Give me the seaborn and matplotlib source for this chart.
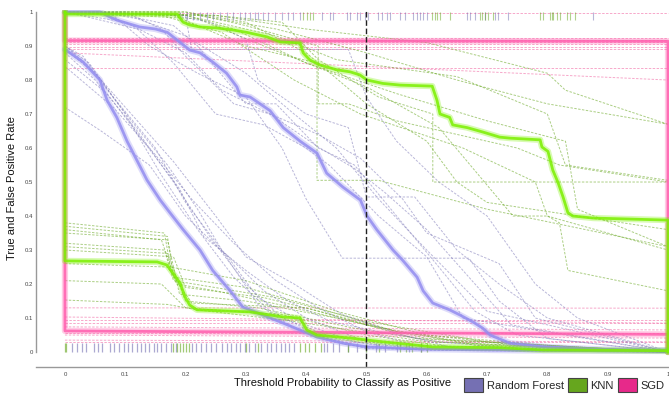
import pandas as pd
import seaborn as sns
import matplotlib.pyplot as plt
from matplotlib.patches import Patch

# --- Mean curves (threshold, rate) ---
rf_tpr_x = [0, 0.058, 0.075, 0.088, 0.124, 0.15, 0.17, 0.207, 0.224, 0.245, 0.268, 0.285, 0.29, 0.307,
            0.34, 0.362, 0.39, 0.418, 0.434, 0.461, 0.49, 0.501, 0.517, 0.544, 0.56, 0.584, 0.594, 0.61,
            0.638, 0.655, 0.677, 0.693, 0.705, 0.738, 0.796, 0.887, 1.0]
rf_tpr_y = [1.0, 1.0, 0.985, 0.975, 0.956, 0.95, 0.94, 0.888, 0.88, 0.853, 0.82, 0.78, 0.756, 0.75,
            0.71, 0.66, 0.62, 0.585, 0.526, 0.485, 0.447, 0.40, 0.36, 0.30, 0.27, 0.22, 0.18, 0.144,
            0.124, 0.109, 0.088, 0.07, 0.05, 0.026, 0.015, 0.008, 0.005]
rf_fpr_x = [0, 0.03, 0.058, 0.07, 0.086, 0.103, 0.119, 0.136, 0.158, 0.174, 0.196, 0.224, 0.245, 0.274,
            0.295, 0.307, 0.362, 0.418, 0.461, 0.501, 0.584, 0.75, 1.0]
rf_fpr_y = [0.89, 0.853, 0.80, 0.74, 0.69, 0.62, 0.565, 0.506, 0.447, 0.41, 0.36, 0.30, 0.24, 0.18,
            0.132, 0.124, 0.085, 0.044, 0.026, 0.015, 0.009, 0.005, 0.003]

knn_tpr_x = [0, 0.003, 0.186, 0.196, 0.207, 0.224, 0.252, 0.279, 0.302, 0.335, 0.357, 0.39, 0.395, 0.406,
             0.423, 0.451, 0.473, 0.489, 0.501, 0.527, 0.556, 0.609, 0.617, 0.622, 0.638, 0.643, 0.667,
             0.693, 0.721, 0.738, 0.788, 0.791, 0.801, 0.809, 0.818, 0.826, 0.834, 0.842, 0.876, 1.0, 1.0]
knn_tpr_y = [1.0, 0.994, 0.994, 0.97, 0.962, 0.956, 0.953, 0.947, 0.94, 0.927, 0.912, 0.909, 0.88, 0.859,
             0.844, 0.83, 0.824, 0.815, 0.80, 0.79, 0.785, 0.782, 0.74, 0.70, 0.69, 0.668, 0.66,
             0.647, 0.632, 0.629, 0.624, 0.603, 0.59, 0.535, 0.497, 0.456, 0.41, 0.40, 0.394, 0.388, 0.0]
knn_fpr_x = [0, 0, 0.153, 0.169, 0.179, 0.191, 0.199, 0.207, 0.219, 0.307, 0.362, 0.39, 0.401, 0.418,
             0.473, 0.527, 0.584, 0.61, 0.721, 0.793, 1.0, 1.0]
knn_fpr_y = [1.0, 0.268, 0.265, 0.256, 0.232, 0.203, 0.162, 0.138, 0.124, 0.118, 0.103, 0.10, 0.065, 0.05,
             0.041, 0.03, 0.02, 0.015, 0.013, 0.006, 0.004, 0.0]

sgd_tpr_x = [0, 0, 1.0, 1.0]
sgd_tpr_y = [1.0, 0.916, 0.914, 0.0]
sgd_fpr_x = [0, 0, 1.0, 1.0]
sgd_fpr_y = [1.0, 0.062, 0.052, 0.0]

# --- Individual fold curves ---
rf_tpr_folds_x = [
    [0, 0.06, 0.12, 0.2, 0.3, 0.38, 0.45, 0.52, 0.6, 0.7, 1.0],
    [0, 0.1, 0.18, 0.22, 0.3, 0.35, 0.42, 0.48, 0.55, 0.62, 0.68, 0.75, 1.0],
    [0, 0.15, 0.24, 0.3, 0.32, 0.4, 0.47, 0.5, 0.58, 0.65, 0.72, 0.8, 1.0],
    [0, 0.05, 0.12, 0.18, 0.25, 0.33, 0.4, 0.44, 0.52, 0.6, 0.66, 1.0],
    [0, 0.2, 0.21, 0.47, 0.5, 0.55, 0.62, 0.7, 0.78, 0.85, 1.0],
    [0, 0.08, 0.14, 0.22, 0.3, 0.36, 0.4, 0.46, 0.67, 0.72, 0.8, 1.0],
    [0, 0.1, 0.2, 0.26, 0.34, 0.42, 0.48, 0.53, 0.6, 0.68, 0.74, 1.0],
    [0, 0.1, 0.16, 0.2, 0.28, 0.34, 0.42, 0.49, 0.56, 0.6, 0.72, 0.78, 1.0],
]
rf_tpr_folds_y = [
    [1.0, 1.0, 0.98, 0.93, 0.82, 0.70, 0.60, 0.45, 0.30, 0.12, 0.0],
    [1.0, 0.99, 0.96, 0.90, 0.73, 0.73, 0.60, 0.55, 0.40, 0.25, 0.12, 0.05, 0.0],
    [1.0, 1.0, 0.97, 0.92, 0.80, 0.70, 0.66, 0.456, 0.456, 0.30, 0.20, 0.10, 0.0],
    [1.0, 0.98, 0.95, 0.85, 0.70, 0.668, 0.60, 0.547, 0.40, 0.28, 0.10, 0.0],
    [1.0, 0.99, 0.89, 0.89, 0.75, 0.62, 0.50, 0.40, 0.20, 0.10, 0.0],
    [1.0, 0.99, 0.90, 0.82, 0.75, 0.60, 0.45, 0.276, 0.276, 0.15, 0.04, 0.0],
    [1.0, 0.97, 0.88, 0.77, 0.70, 0.603, 0.54, 0.47, 0.36, 0.20, 0.08, 0.0],
    [1.0, 1.0, 0.95, 0.87, 0.73, 0.70, 0.64, 0.57, 0.45, 0.35, 0.26, 0.10, 0.0],
]
rf_fpr_folds_x = [
    [0, 0.04, 0.1, 0.16, 0.22, 0.28, 0.34, 0.42, 0.5, 1.0],
    [0, 0.05, 0.12, 0.18, 0.24, 0.3, 0.36, 0.45, 0.55, 1.0],
    [0, 0.03, 0.08, 0.15, 0.2, 0.26, 0.33, 0.4, 0.5, 0.6, 1.0],
    [0, 0.06, 0.14, 0.2, 0.27, 0.32, 0.4, 0.48, 0.58, 1.0],
    [0, 0.05, 0.1, 0.18, 0.25, 0.3, 0.38, 0.46, 0.56, 0.65, 1.0],
    [0, 0.07, 0.13, 0.19, 0.23, 0.3, 0.37, 0.44, 0.52, 0.62, 0.75, 1.0],
    [0, 0.04, 0.11, 0.17, 0.22, 0.26, 0.32, 0.38, 0.47, 0.6, 1.0],
    [0, 0.08, 0.15, 0.21, 0.28, 0.35, 0.42, 0.5, 0.58, 1.0],
]
rf_fpr_folds_y = [
    [0.90, 0.85, 0.70, 0.52, 0.36, 0.22, 0.12, 0.05, 0.01, 0.0],
    [0.88, 0.80, 0.65, 0.50, 0.34, 0.20, 0.10, 0.04, 0.01, 0.0],
    [0.90, 0.87, 0.75, 0.60, 0.44, 0.30, 0.18, 0.10, 0.03, 0.01, 0.0],
    [0.72, 0.65, 0.55, 0.40, 0.28, 0.16, 0.08, 0.03, 0.01, 0.0],
    [0.89, 0.82, 0.72, 0.56, 0.40, 0.28, 0.20, 0.11, 0.05, 0.01, 0.0],
    [0.86, 0.76, 0.62, 0.48, 0.34, 0.24, 0.15, 0.09, 0.06, 0.03, 0.01, 0.0],
    [0.90, 0.84, 0.68, 0.55, 0.42, 0.30, 0.14, 0.07, 0.02, 0.005, 0.0],
    [0.84, 0.72, 0.58, 0.45, 0.32, 0.21, 0.13, 0.06, 0.02, 0.0],
]

knn_tpr_folds_x = [
    [0, 0.22, 0.35, 0.5, 0.65, 0.8, 1.0],
    [0, 0.2, 0.3, 0.42, 0.42, 0.47, 0.55, 0.75, 0.82, 1.0],
    [0, 0.25, 0.36, 0.42, 0.52, 0.61, 0.61, 1.0],
    [0, 0.18, 0.3, 0.418, 0.418, 0.52, 0.7, 1.0],
    [0, 0.22, 0.33, 0.5, 0.62, 0.743, 0.80, 0.82, 0.834, 1.0],
    [0, 0.2, 0.28, 0.4, 0.55, 0.7, 0.83, 0.85, 1.0],
    [0, 0.25, 0.4, 0.6, 0.8, 0.83, 1.0],
    [0, 0.2, 0.35, 0.45, 0.65, 0.8, 0.83, 1.0],
    [0, 0.16, 0.26, 0.38, 0.49, 0.66, 0.78, 0.8, 1.0],
    [0, 0.2, 0.3, 0.4, 0.5, 0.6, 0.65, 0.7, 1.0],
]
knn_tpr_folds_y = [
    [1.0, 0.99, 0.95, 0.88, 0.80, 0.73, 0.67],
    [1.0, 1.0, 0.96, 0.90, 0.73, 0.73, 0.68, 0.60, 0.55, 0.50],
    [1.0, 0.99, 0.97, 0.86, 0.75, 0.70, 0.50, 0.50],
    [1.0, 0.99, 0.90, 0.85, 0.505, 0.505, 0.42, 0.31],
    [1.0, 0.98, 0.90, 0.78, 0.66, 0.40, 0.40, 0.38, 0.24, 0.18],
    [1.0, 0.99, 0.95, 0.85, 0.76, 0.68, 0.62, 0.42, 0.31],
    [1.0, 0.99, 0.95, 0.91, 0.82, 0.77, 0.67],
    [1.0, 0.99, 0.93, 0.86, 0.81, 0.70, 0.55, 0.505],
    [1.0, 0.99, 0.94, 0.80, 0.70, 0.60, 0.50, 0.40, 0.30],
    [1.0, 1.0, 0.97, 0.88, 0.73, 0.62, 0.50, 0.44, 0.36],
]
knn_fpr_folds_x = [
    [0, 0.165, 0.175, 0.3, 0.45, 0.6, 0.8, 1.0],
    [0, 0.17, 0.18, 0.3, 0.4, 0.55, 0.7, 1.0],
    [0, 0.16, 0.185, 0.25, 0.38, 0.5, 0.68, 1.0],
    [0, 0.17, 0.19, 0.3, 0.45, 0.6, 1.0],
    [0, 0.165, 0.18, 0.35, 0.5, 0.7, 1.0],
    [0, 0.17, 0.2, 0.32, 0.48, 0.62, 1.0],
    [0, 0.18, 0.2, 0.33, 0.42, 0.58, 1.0],
    [0, 0.17, 0.21, 0.4, 0.55, 0.75, 1.0],
    [0, 0.16, 0.2, 0.36, 0.5, 0.66, 1.0],
    [0, 0.17, 0.22, 0.38, 0.6, 1.0],
]
knn_fpr_folds_y = [
    [0.38, 0.35, 0.25, 0.21, 0.12, 0.05, 0.02, 0.0],
    [0.37, 0.34, 0.22, 0.19, 0.14, 0.06, 0.02, 0.0],
    [0.36, 0.33, 0.20, 0.18, 0.13, 0.08, 0.02, 0.0],
    [0.35, 0.33, 0.17, 0.15, 0.10, 0.04, 0.0],
    [0.32, 0.30, 0.21, 0.16, 0.09, 0.03, 0.0],
    [0.31, 0.29, 0.15, 0.13, 0.07, 0.03, 0.0],
    [0.30, 0.28, 0.19, 0.16, 0.12, 0.04, 0.0],
    [0.26, 0.25, 0.144, 0.13, 0.06, 0.02, 0.0],
    [0.21, 0.20, 0.13, 0.11, 0.05, 0.01, 0.0],
    [0.153, 0.14, 0.124, 0.09, 0.03, 0.0],
]

sgd_tpr_folds_start = [0.997, 0.923, 0.918, 0.912, 0.907, 0.898, 0.89, 0.88, 0.834]
sgd_tpr_folds_end = [0.997, 0.923, 0.918, 0.912, 0.907, 0.898, 0.89, 0.80, 0.834]
sgd_fpr_folds_start = [0.13, 0.103, 0.094, 0.085, 0.074, 0.056, 0.05, 0.035, 0.03]
sgd_fpr_folds_end = [0.129, 0.085, 0.094, 0.085, 0.065, 0.056, 0.041, 0.03, 0.03]

# --- Rug marks (predicted probabilities) ---
rug_top_rf = [0.191, 0.202, 0.212, 0.224, 0.235, 0.245, 0.257, 0.269, 0.279, 0.29, 0.299,
              0.307, 0.315, 0.320, 0.328, 0.337, 0.348, 0.360, 0.370, 0.378, 0.390, 0.426, 0.439,
              0.444, 0.468, 0.473, 0.484, 0.489, 0.498, 0.502, 0.519, 0.526, 0.534, 0.539, 0.556,
              0.564, 0.577, 0.584, 0.589, 0.594, 0.600, 0.667, 0.672, 0.680, 0.697, 0.713, 0.718,
              0.735, 0.876]
rug_top_knn = [0.395, 0.401, 0.406, 0.411, 0.609, 0.614, 0.617, 0.622, 0.638, 0.688, 0.691,
               0.697, 0.701, 0.710, 0.788, 0.793, 0.804, 0.808, 0.809, 0.816, 0.821, 0.833, 0.837, 0.846]
rug_bot_rf = [0.012, 0.02, 0.028, 0.035, 0.048, 0.055, 0.062, 0.075, 0.081, 0.09, 0.098, 0.104,
              0.112, 0.12, 0.126, 0.133, 0.14, 0.147, 0.152, 0.16, 0.168, 0.176, 0.184, 0.21,
              0.218, 0.226, 0.234, 0.242, 0.25, 0.26, 0.268, 0.275, 0.284, 0.29, 0.298, 0.306,
              0.315, 0.325, 0.335, 0.342, 0.35, 0.358, 0.365, 0.372, 0.38, 0.43, 0.435, 0.445,
              0.455, 0.47, 0.485, 0.5, 0.515, 0.53, 0.55, 0.57, 0.59]
rug_bot_knn = [0.0, 0.002, 0.18, 0.185, 0.19, 0.195, 0.2, 0.205, 0.3, 0.32, 0.39, 0.398, 0.405,
               0.415, 0.425, 0.47, 0.5, 0.52, 0.556, 0.565, 0.575, 0.59, 0.6]

models = ['Random Forest', 'KNN', 'SGD']
model_colors = ['#7570b3', '#66a61e', '#e7298a']
mean_colors = ['#938df0', '#7cf000', '#ff5fae']

# --- Figure ---
sns.set_theme(style='white')
plt.rcParams['font.family'] = ['Liberation Sans', 'DejaVu Sans']

fig = plt.figure(figsize=(6.69, 3.96), dpi=100)
ax = fig.add_axes([36 / 669, 29 / 396, 633 / 669, 357 / 396])

dash = (0, (2.5, 1.5))


def fold_frame(xs, ys):
    rows = []
    for i, (fx, fy) in enumerate(zip(xs, ys)):
        for a, b in zip(fx, fy):
            rows.append({'t': a, 'v': b, 'fold': i})
    return pd.DataFrame(rows)


def draw_folds(xs, ys, color, alpha):
    df = fold_frame(xs, ys)
    sns.lineplot(data=df, x='t', y='v', units='fold', estimator=None, sort=False,
                 color=color, lw=0.7, linestyle=dash, alpha=alpha, ax=ax)


# SGD folds (flat lines)
sgd_x = [[0, 1.0]] * len(sgd_tpr_folds_start)
draw_folds(sgd_x, [[a, b] for a, b in zip(sgd_tpr_folds_start, sgd_tpr_folds_end)], '#f0609f', 0.55)
draw_folds(sgd_x, [[a, b] for a, b in zip(sgd_fpr_folds_start, sgd_fpr_folds_end)], '#f0609f', 0.55)
draw_folds(knn_tpr_folds_x, knn_tpr_folds_y, model_colors[1], 0.55)
draw_folds(knn_fpr_folds_x, knn_fpr_folds_y, model_colors[1], 0.55)
draw_folds(rf_tpr_folds_x, rf_tpr_folds_y, model_colors[0], 0.5)
draw_folds(rf_fpr_folds_x, rf_fpr_folds_y, model_colors[0], 0.5)

# rugs
ax.vlines(rug_top_rf, 0.976, 1.0, color=model_colors[0], lw=0.8, alpha=0.5)
ax.vlines(rug_top_knn, 0.976, 1.0, color=model_colors[1], lw=0.8, alpha=0.5)
ax.vlines(rug_bot_rf, 0.0, 0.026, color=model_colors[0], lw=0.9, alpha=0.6)
ax.vlines(rug_bot_knn, 0.0, 0.026, color=model_colors[1], lw=0.9, alpha=0.6)

# mean curves: soft halo + core
means = [
    (sgd_tpr_x, sgd_tpr_y, mean_colors[2]),
    (sgd_fpr_x, sgd_fpr_y, mean_colors[2]),
    (rf_tpr_x, rf_tpr_y, mean_colors[0]),
    (rf_fpr_x, rf_fpr_y, mean_colors[0]),
    (knn_tpr_x, knn_tpr_y, mean_colors[1]),
    (knn_fpr_x, knn_fpr_y, mean_colors[1]),
]
for mx, my, c in means:
    sns.lineplot(x=mx, y=my, sort=False, estimator=None, color=c, lw=4.5, alpha=0.3, ax=ax)
    sns.lineplot(x=mx, y=my, sort=False, estimator=None, color=c, lw=2.0, alpha=0.85, ax=ax)

ax.axvline(0.5, color='#222222', lw=1.0, linestyle=(0, (4, 2)))

ax.set_xlim(-0.048, 1.0017)
ax.set_ylim(-0.044, 1.0059)
ticks = [i / 10 for i in range(11)]
tick_labels = ['0', '0.1', '0.2', '0.3', '0.4', '0.5', '0.6', '0.7', '0.8', '0.9', '1']
ax.set_xticks(ticks)
ax.set_xticklabels(tick_labels)
ax.set_yticks(ticks)
ax.set_yticklabels(tick_labels)
ax.tick_params(axis='y', direction='in', length=3, width=0.7, colors='#888888',
               labelcolor='#444444', labelsize=4.3, pad=2)
ax.tick_params(axis='x', direction='inout', length=3, width=0.7, colors='#888888',
               labelcolor='#444444', labelsize=4.3, pad=2)

for side in ['top', 'right']:
    ax.spines[side].set_visible(False)
for side in ['left', 'bottom']:
    ax.spines[side].set_color('#999999')
    ax.spines[side].set_linewidth(1.0)
ax.spines['left'].set_bounds(0, 1)

ax.set_xlabel('Threshold Probability to Classify as Positive', fontsize=8, color='#111111')
ax.set_ylabel('True and False Positive Rate', fontsize=8, color='#111111')
ax.xaxis.set_label_coords((343 - 36) / 633, -0.032)
ax.yaxis.set_label_coords((17 - 36) / 633, 0.5)

handles = [Patch(facecolor=c, edgecolor='#444444', lw=0.8) for c in model_colors]
fig.legend(handles, models, loc='center left', bbox_to_anchor=(464 / 669, 11 / 396),
           ncol=3, frameon=False, fontsize=8, handlelength=1.75, handleheight=1.5,
           handletextpad=0.3, columnspacing=0.35, borderpad=0, borderaxespad=0)

fig.savefig('out.png', dpi=100)
